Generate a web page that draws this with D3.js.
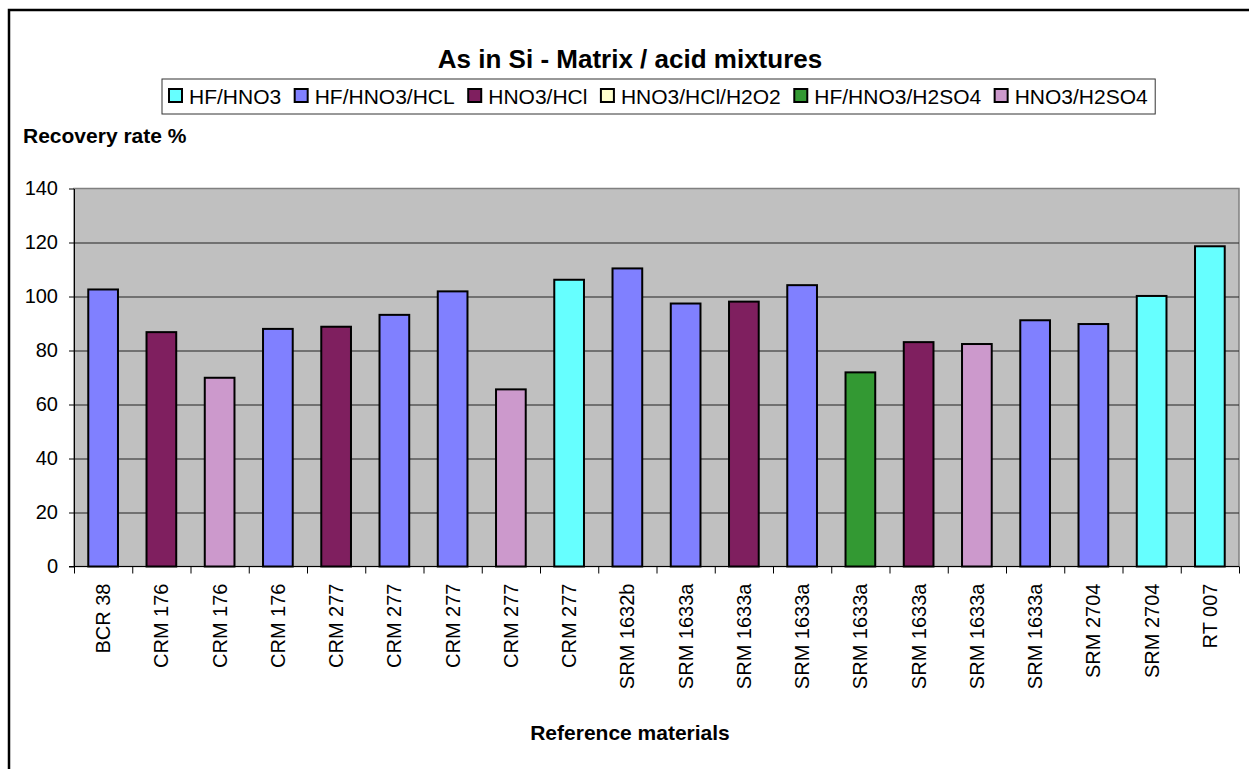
<!DOCTYPE html>
<html>
<head>
<meta charset="utf-8">
<script src="https://cdn.jsdelivr.net/npm/d3@7"></script>
<style>
	body { margin: 0; background: #fff; }
	svg { display: block; font-family: Arial, "Liberation Sans", sans-serif; }
	.axis path, .axis line { stroke: #000; }
	.grid line { stroke: #222; }
	.grid path { display: none; }
</style>
</head>
<body>
<div id="chart"></div>
<script>
//Dados
var materials = ["BCR 38", "CRM 176", "CRM 176", "CRM 176", "CRM 277", "CRM 277", "CRM 277", "CRM 277", "CRM 277", "SRM 1632b",
	"SRM 1633a", "SRM 1633a", "SRM 1633a", "SRM 1633a", "SRM 1633a", "SRM 1633a", "SRM 1633a", "SRM 2704", "SRM 2704", "RT 007"];
var recovery = [102.6, 86.8, 69.9, 88.0, 88.8, 93.2, 101.9, 65.6, 106.2, 110.4,
	97.4, 98.1, 104.2, 71.9, 83.1, 82.4, 91.2, 89.8, 100.2, 118.6];
var mixture = ["HF/HNO3/HCL", "HNO3/HCl", "HNO3/H2SO4", "HF/HNO3/HCL", "HNO3/HCl", "HF/HNO3/HCL", "HF/HNO3/HCL", "HNO3/H2SO4", "HF/HNO3", "HF/HNO3/HCL",
	"HF/HNO3/HCL", "HNO3/HCl", "HF/HNO3/HCL", "HF/HNO3/H2SO4", "HNO3/HCl", "HNO3/H2SO4", "HF/HNO3/HCL", "HF/HNO3/HCL", "HF/HNO3", "HF/HNO3"];
var legendNames = ["HF/HNO3", "HF/HNO3/HCL", "HNO3/HCl", "HNO3/HCl/H2O2", "HF/HNO3/H2SO4", "HNO3/H2SO4"];
var legendColors = ["#66FFFF", "#8080FF", "#7F1F5F", "#FFFFCC", "#339933", "#CC99CC"];
var yTicks = [0, 20, 40, 60, 80, 100, 120, 140];

var W = 1249, H = 769;
var plot = {left: 74, right: 1239, top: 188.5, bottom: 566.5};

var svg = d3.select("#chart").append("svg")
	.attr("width", W)
	.attr("height", H);

//Borda externa
svg.append("rect")
	.attr("x", 9).attr("y", 10)
	.attr("width", 1300).attr("height", 800)
	.attr("fill", "#fff")
	.attr("stroke", "#000")
	.attr("stroke-width", 2.5);

//Escalas
var x = d3.scaleBand()
	.domain(d3.range(materials.length))
	.range([plot.left, plot.right])
	.padding(0);
var xb = d3.scaleLinear()
	.domain([0, materials.length])
	.range([plot.left, plot.right]);
var y = d3.scaleLinear()
	.domain([0, 140])
	.range([plot.bottom, plot.top]);
var color = d3.scaleOrdinal()
	.domain(legendNames)
	.range(legendColors);

//Area do grafico
svg.append("rect")
	.attr("x", plot.left).attr("y", plot.top)
	.attr("width", plot.right - plot.left)
	.attr("height", plot.bottom - plot.top)
	.attr("fill", "#C0C0C0")
	.attr("stroke", "#808080")
	.attr("stroke-width", 1.5);

//Grade
svg.append("g")
	.attr("class", "grid")
	.attr("transform", "translate(" + plot.left + ",0)")
	.call(d3.axisLeft(y).tickValues(yTicks.slice(1, -1)).tickSize(-(plot.right - plot.left)).tickFormat(""))
	.selectAll("line").attr("stroke-width", 1.2);

//Barras
var barW = x.bandwidth() * 0.51;
svg.selectAll(".bar")
	.data(recovery)
	.enter()
	.append("rect")
	.attr("class", "bar")
	.attr("x", function(d, i) { return x(i) + (x.bandwidth() - barW) / 2; })
	.attr("y", function(d) { return y(d); })
	.attr("width", barW)
	.attr("height", function(d) { return y(0) - y(d); })
	.attr("fill", function(d, i) { return color(mixture[i]); })
	.attr("stroke", "#000")
	.attr("stroke-width", 2);

//Eixo Y
var yAxis = svg.append("g")
	.attr("class", "axis")
	.attr("transform", "translate(" + plot.left + ",0)")
	.call(d3.axisLeft(y).tickValues(yTicks).tickSize(5).tickSizeOuter(0).tickPadding(11));
yAxis.selectAll("text")
	.attr("font-size", 20)
	.attr("font-family", "Arial, 'Liberation Sans', sans-serif")
	.attr("fill", "#000");

//Eixo X (marcas entre categorias)
svg.append("g")
	.attr("class", "axis")
	.attr("transform", "translate(0," + plot.bottom + ")")
	.call(d3.axisBottom(xb).tickValues(d3.range(materials.length + 1)).tickSize(7).tickSizeOuter(0).tickFormat(""))
	.select(".domain").attr("d", "M" + (plot.left - 5) + ",0H" + plot.right);

//Rotulos X
var xAxis = svg.append("g")
	.attr("transform", "translate(0," + plot.bottom + ")")
	.call(d3.axisBottom(x).tickSize(0).tickFormat(function(i) { return materials[i]; }));
xAxis.select(".domain").remove();
xAxis.selectAll("text")
	.attr("font-size", 20)
	.attr("font-family", "Arial, 'Liberation Sans', sans-serif")
	.attr("fill", "#000")
	.attr("text-anchor", "end")
	.attr("transform", "rotate(-90)")
	.attr("x", -17)
	.attr("y", 0)
	.attr("dy", "0.35em");

//Titulos
svg.append("text")
	.attr("x", 630).attr("y", 68)
	.attr("text-anchor", "middle")
	.attr("font-size", 26)
	.attr("font-weight", "bold")
	.text("As in Si - Matrix / acid mixtures");
svg.append("text")
	.attr("x", 23).attr("y", 143)
	.attr("font-size", 21)
	.attr("font-weight", "bold")
	.text("Recovery rate %");
svg.append("text")
	.attr("x", 630).attr("y", 740)
	.attr("text-anchor", "middle")
	.attr("font-size", 21)
	.attr("font-weight", "bold")
	.text("Reference materials");

//Legenda
var legend = svg.append("g").attr("transform", "translate(162,79)");
var legendBox = legend.append("rect")
	.attr("x", 0).attr("y", 0)
	.attr("height", 35)
	.attr("fill", "#fff")
	.attr("stroke", "#333")
	.attr("stroke-width", 1);
var lx = 7;
legendNames.forEach(function(name, i) {
	var item = legend.append("g").attr("transform", "translate(" + lx + ",0)");
	item.append("rect")
		.attr("x", 0).attr("y", 10)
		.attr("width", 13).attr("height", 13)
		.attr("fill", legendColors[i])
		.attr("stroke", "#000")
		.attr("stroke-width", 2);
	var t = item.append("text")
		.attr("x", 20).attr("y", 25)
		.attr("font-size", 21)
		.text(name);
	lx += 20 + t.node().getComputedTextLength() + 13.5;
});
legendBox.attr("width", lx - 6);
</script>
</body>
</html>
